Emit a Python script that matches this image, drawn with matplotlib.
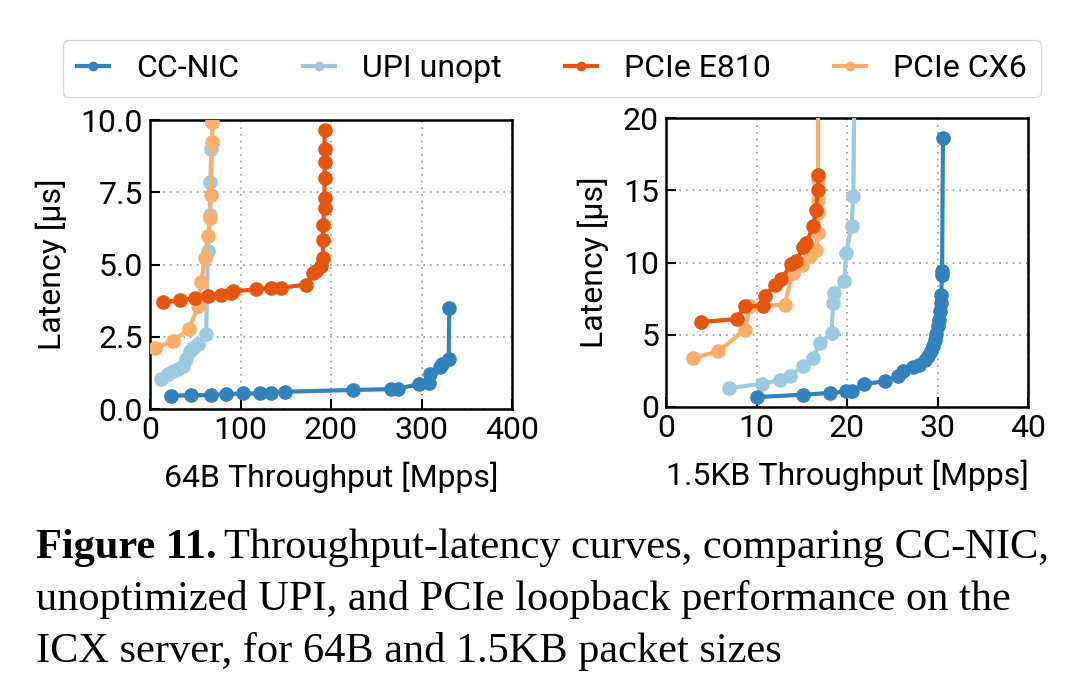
import matplotlib
matplotlib.use("Agg")
import matplotlib.pyplot as plt

plt.rcParams['font.family'] = ['Roboto', 'DejaVu Sans']

labels = ["CC-NIC", "UPI unopt", "PCIe E810", "PCIe CX6"]
colors = ["#3182bd", "#9ecae1", "#e6550d", "#fdae6b"]

# 64B panel
cc64_x = [23.5, 45.6, 67, 84, 102.6, 121, 134, 149, 224, 266, 274, 297, 308, 309.4, 320, 323, 330, 330.7]
cc64_y = [0.46, 0.48, 0.48, 0.52, 0.54, 0.54, 0.57, 0.6, 0.66, 0.69, 0.71, 0.86, 0.89, 1.2, 1.44, 1.55, 1.72, 3.5]
upi64_x = [12.5, 20, 25, 31, 36, 40, 44, 47.5, 53, 62, 64, 66, 66.6, 67.7, 69, 70]
upi64_y = [1.03, 1.2, 1.32, 1.4, 1.5, 1.72, 2.0, 2.1, 2.24, 2.6, 5.46, 6.72, 7.85, 9.0, 9.94, 12.0]
e810_64_x = [14.3, 32.7, 49.3, 64, 78.7, 89.8, 91.6, 117.4, 134, 145, 172.6, 180, 183.6, 189, 191, 191, 191, 192.8, 192.8, 192.8, 192.8, 192.8, 192.8]
e810_64_y = [3.71, 3.76, 3.83, 3.91, 3.94, 4.02, 4.08, 4.14, 4.2, 4.2, 4.31, 4.71, 4.77, 4.94, 5.23, 5.86, 6.38, 6.95, 7.3, 7.99, 8.56, 9.02, 9.66]
cx6_64_x = [5, 25.4, 43, 53, 56.7, 60.3, 64, 66.6, 67, 68.8, 68.8, 69.5]
cx6_64_y = [2.1, 2.36, 2.76, 3.56, 4.39, 5.23, 5.98, 6.6, 7.41, 9.25, 9.94, 12.0]

# 1.5KB panel
cc15_x = [10.07, 15.1, 18.1, 19.9, 20.5, 21.9, 24.2, 25.6, 26.2, 27.3, 28, 28.6, 28.9, 29.3, 29.5, 29.7, 29.85, 30.0, 30.2, 30.3, 30.4, 30.4, 30.5, 30.5, 30.6]
cc15_y = [0.69, 0.85, 0.97, 1.08, 1.13, 1.59, 1.78, 2.12, 2.47, 2.77, 2.93, 3.28, 3.5, 3.85, 4.2, 4.66, 5.07, 5.58, 6.04, 6.62, 7.2, 7.77, 9.16, 9.39, 18.6]
upi15_x = [6.95, 10.55, 12.6, 13.7, 15.1, 16.25, 17.0, 18.3, 18.45, 18.6, 19.7, 19.9, 20.5, 20.7, 20.8]
upi15_y = [1.31, 1.61, 1.85, 2.12, 2.81, 3.39, 4.43, 5.12, 7.2, 7.9, 8.7, 10.66, 12.5, 14.6, 22.0]
e810_15_x = [3.82, 7.8, 8.7, 10.7, 10.9, 12.0, 12.75, 13.86, 14.4, 15.15, 15.5, 16.25, 16.6, 16.8, 16.8]
e810_15_y = [5.88, 6.09, 7.0, 6.97, 7.66, 8.47, 8.86, 9.92, 10.08, 11.1, 11.35, 12.5, 13.66, 15.04, 16.08]
cx6_15_x = [2.94, 5.77, 8.7, 9.26, 13.1, 14.0, 15.0, 15.9, 16.6, 16.8, 16.8, 16.8, 16.8, 16.8]
cx6_15_y = [3.39, 3.85, 5.35, 6.97, 7.08, 9.27, 9.85, 10.43, 10.9, 12.04, 13.4, 14.35, 15.73, 22.0]

FS = 23

fig = plt.figure(figsize=(10.8, 6.91), dpi=100)
ax1 = fig.add_axes([0.1389, 0.408, 0.3352, 0.418])
ax2 = fig.add_axes([0.6167, 0.411, 0.3352, 0.418])

series64 = [(cc64_x, cc64_y), (upi64_x, upi64_y), (e810_64_x, e810_64_y), (cx6_64_x, cx6_64_y)]
series15 = [(cc15_x, cc15_y), (upi15_x, upi15_y), (e810_15_x, e810_15_y), (cx6_15_x, cx6_15_y)]
order = [1, 3, 2, 0]

for ax, series in [(ax1, series64), (ax2, series15)]:
    for i in order:
        x, y = series[i]
        ax.plot(x, y, color=colors[i], marker='o', markersize=9.5, linewidth=3.0,
                label=labels[i], clip_on=True, zorder=3 + (i == 0))
    ax.grid(True, linestyle=(0, (1, 3)), color='#999999', linewidth=1.2)
    ax.set_axisbelow(True)
    ax.tick_params(direction='in', length=7, width=1.5, labelsize=FS, pad=5)
    for s in ax.spines.values():
        s.set_linewidth(1.8)
    ax.set_ylabel("Latency [µs]", fontsize=FS, labelpad=10)

ax1.set_xlim(0, 400)
ax1.set_ylim(0, 10)
ax1.set_xticks([0, 100, 200, 300, 400])
ax1.set_yticks([0, 2.5, 5, 7.5, 10])
ax1.set_yticklabels(["0.0", "2.5", "5.0", "7.5", "10.0"])
ax1.set_xlabel("64B Throughput [Mpps]", fontsize=FS, labelpad=12)

ax2.set_xlim(0, 40)
ax2.set_ylim(0, 20)
ax2.set_xticks([0, 10, 20, 30, 40])
ax2.set_yticks([0, 5, 10, 15, 20])
ax2.set_xlabel("1.5KB Throughput [Mpps]", fontsize=FS, labelpad=12)

leg_handles = [plt.Line2D([], [], color=c, marker='o', markersize=6, linewidth=3.0) for c in colors]
fig.legend(leg_handles, labels, loc='center', bbox_to_anchor=(0.511, 0.901), ncol=4,
           fontsize=FS, frameon=True, fancybox=True, edgecolor='#cccccc',
           columnspacing=1.98, handlelength=1.0, handletextpad=0.85, borderpad=0.45)

cap_font = ['Liberation Serif', 'DejaVu Serif']
CFS = 30.5
t0 = fig.text(0.033, 0.1925, "Figure 11.", fontsize=CFS, fontweight='bold', family=cap_font, va='baseline')
fig.canvas.draw()
bb = t0.get_window_extent(renderer=fig.canvas.get_renderer())
x_next = (bb.x1 + 8) / fig.bbox.width
fig.text(x_next, 0.1925, "Throughput-latency curves, comparing CC-NIC,", fontsize=CFS, family=cap_font, va='baseline')
fig.text(0.033, 0.117, "unoptimized UPI, and PCIe loopback performance on the", fontsize=CFS, family=cap_font, va='baseline')
fig.text(0.033, 0.042, "ICX server, for 64B and 1.5KB packet sizes", fontsize=CFS, family=cap_font, va='baseline')

fig.savefig("out.png", dpi=100)
